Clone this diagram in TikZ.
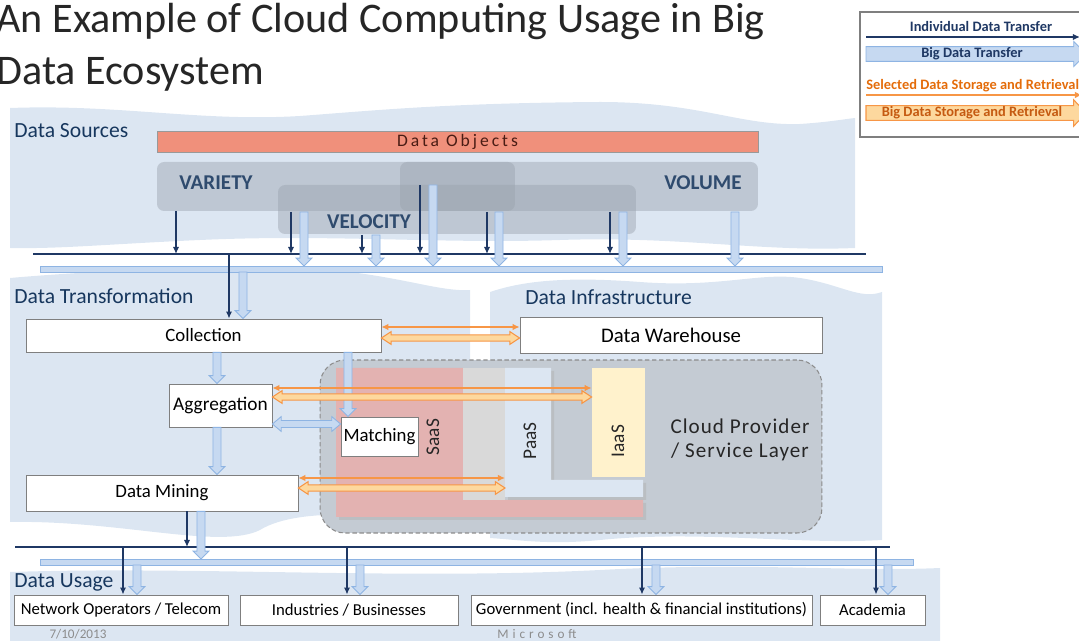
\documentclass[tikz,border=0pt]{standalone}
\usepackage{fontspec}
\setmainfont{Carlito}
\newfontfamily\spacedfont[LetterSpace=17]{Carlito}
\newfontfamily\widefont[LetterSpace=5]{Carlito}
\newfontfamily\msfont[LetterSpace=30]{Carlito}
\usetikzlibrary{arrows.meta, positioning, calc}

\definecolor{bandblue}{HTML}{DCE6F2}
\definecolor{navy}{HTML}{1F3864}
\definecolor{navytext}{HTML}{17375E}
\definecolor{vtextblue}{HTML}{2F4B6E}
\definecolor{lfill}{HTML}{C6D9F1}
\definecolor{lline}{HTML}{8EB4E3}
\definecolor{orline}{HTML}{F79646}
\definecolor{orfill}{HTML}{FDD89E}
\definecolor{ortext}{HTML}{E46C0A}
\definecolor{ortextb}{HTML}{C55A11}
\definecolor{objred}{HTML}{F0907B}
\definecolor{objtext}{HTML}{4A1C14}
\definecolor{vgray}{HTML}{9AA3AE}
\definecolor{cloudgray}{HTML}{C4CBD3}
\definecolor{dashgray}{HTML}{8C8C8C}
\definecolor{saaspink}{HTML}{E3B2B1}
\definecolor{stripgray}{HTML}{D9D9D9}
\definecolor{paasblue}{HTML}{DCE6F2}
\definecolor{iaasyel}{HTML}{FFF2CC}
\definecolor{boxgray}{HTML}{7F7F7F}

% block arrow: [style]{shaft half width}{head half width}{head length}{from}{to}
\newcommand\blockarrow[6][]{%
  \filldraw[#1] ($#5!#2!90:#6$) -- ($#6!#4!#5!#2!-90:#5$) -- ($#6!#4!#5!#3!-90:#5$) -- #6
    -- ($#6!#4!#5!#3!90:#5$) -- ($#6!#4!#5!#2!90:#5$) -- ($#5!#2!-90:#6$) -- cycle;}
% same, with a head at both ends
\newcommand\dblblockarrow[6][]{%
  \filldraw[#1] #5 -- ($#5!#4!#6!#3!90:#6$) -- ($#5!#4!#6!#2!90:#6$)
    -- ($#6!#4!#5!#2!-90:#5$) -- ($#6!#4!#5!#3!-90:#5$) -- #6
    -- ($#6!#4!#5!#3!90:#5$) -- ($#6!#4!#5!#2!90:#5$)
    -- ($#5!#4!#6!#2!-90:#6$) -- ($#5!#4!#6!#3!-90:#6$) -- cycle;}

\begin{document}
\begin{tikzpicture}[x=0.02cm, y=-0.02cm,
    lbl/.style={font=\fontsize{12.3}{14}\selectfont, text=navytext, inner sep=0pt, anchor=west},
    box/.style={draw=boxgray, line width=0.5pt, fill=white, inner sep=0pt, font=\fontsize{10.7}{12}\selectfont},
    usebox/.style={box, minimum height=0.6cm, font=\fontsize{9.5}{11}\selectfont},
    vbox/.style={fill=vgray, fill opacity=0.45, rounded corners=4pt, minimum width=7.16cm, minimum height=0.98cm, inner sep=0pt},
    vtext/.style={font=\bfseries\fontsize{12}{14}\selectfont, text=vtextblue},
    layertext/.style={rotate=90, font=\fontsize{11}{13}\selectfont, text=black!85},
    darr/.style={navy, line width=1.1pt, -{Latex[length=4pt,width=3.6pt]}},
    larr/.style={fill=lfill, draw=lline, line width=0.5pt},
    oarr/.style={orline, line width=1.1pt, {Latex[length=4pt,width=3.8pt]}-{Latex[length=4pt,width=3.8pt]}},
    ofat/.style={fill=orfill, draw=orline, line width=0.6pt},
    legtext/.style={font=\bfseries\fontsize{8.2}{9}\selectfont, inner sep=0pt}
]
\useasboundingbox (0,0) rectangle (1079,641);

% background bands
\fill[bandblue] (10,108) .. controls (120,104) and (200,122) .. (300,116) .. controls (380,110) and (450,103) .. (600,102)
  .. controls (700,102) and (740,126) .. (800,124) .. controls (830,122) and (845,119) .. (855,118) -- (855,248)
  .. controls (760,252) and (680,236) .. (560,240) .. controls (440,244) and (330,234) .. (200,240)
  .. controls (110,244) and (60,249) .. (10,248) -- cycle;
\fill[bandblue] (10,278) .. controls (100,270) and (250,264) .. (330,270) .. controls (400,276) and (440,292) .. (470,290)
  -- (470,528) .. controls (400,515) and (300,505) .. (260,530) .. controls (220,550) and (120,520) .. (10,522) -- cycle;
\fill[bandblue] (490,292) .. controls (520,282) and (560,276) .. (640,282) .. controls (720,288) and (760,272) .. (800,278)
  .. controls (840,284) and (860,300) .. (882,292) -- (882,540) .. controls (800,545) and (700,530) .. (600,540)
  .. controls (550,545) and (520,540) .. (490,538) -- cycle;
\fill[bandblue] (10,572) .. controls (200,566) and (400,580) .. (600,570) .. controls (750,562) and (850,572) .. (940,568)
  -- (940,641) -- (10,641) -- cycle;

% title
\node[anchor=base west, inner sep=0pt, text=black!85, font=\fontsize{24}{28}\selectfont] (title1) at (-4,33) {An Example of Cloud Computing Usage in Big};
\node[anchor=base west, inner sep=0pt, text=black!85, font=\fontsize{24}{28}\selectfont] (title2) at (-4,85) {Data Ecosystem};

% legend
\draw[boxgray, line width=0.6pt] (860,12) rectangle (1100,137);
\node[legtext, text=navy] (lgind) at (981,27) {Individual Data Transfer};
\coordinate (lgia) at (866,37); \coordinate (lgib) at (1080,37);
\draw[darr] (lgia) -- (lgib);
\coordinate (lgba) at (866,54); \coordinate (lgbb) at (1086,54);
\blockarrow[larr]{4.2pt}{7.2pt}{7pt}{(lgba)}{(lgbb)}
\node[legtext, text=navy] (lgbig) at (972,54) {Big Data Transfer};
\node[legtext, text=ortext, anchor=west] (lgsel) at (866,86) {Selected Data Storage and Retrieval};
\coordinate (lgsa) at (866,95); \coordinate (lgsb) at (1082,95);
\draw[orline, line width=1.1pt, -{Latex[length=4pt,width=3.8pt]}] (lgsa) -- (lgsb);
\coordinate (lgoa) at (866,113); \coordinate (lgob) at (1086,113);
\blockarrow[ofat]{4.2pt}{7.5pt}{7pt}{(lgoa)}{(lgob)}
\node[legtext, text=ortextb] (lgstore) at (972,113) {Big Data Storage and Retrieval};

% section labels
\node[lbl] (srclbl) at (14,131) {Data Sources};
\node[lbl] (trlbl) at (14,296) {Data Transformation};
\node[lbl] (inflbl) at (525,297) {Data Infrastructure};
\node[lbl] (uselbl) at (14,582) {Data Usage};

% data sources
\node[fill=objred, draw=black!40, line width=0.4pt, minimum width=12.02cm, minimum height=0.42cm, inner sep=0pt,
  font=\fontsize{10}{12}\selectfont, text=objtext] (objects) at (457.5,141.5) {\spacedfont Data Objects};
\node[vbox] (variety) at (336,186.5) {};
\node[vbox] (volume) at (579,186.5) {};
\node[vbox] (velocity) at (457,209.5) {};
\node[vtext] (varietylbl) at (216,183) {VARIETY};
\node[vtext] (volumelbl) at (703,183) {VOLUME};
\node[vtext] (velocitylbl) at (369,222) {VELOCITY};

% upper buses
\coordinate (busA) at (0,254);
\coordinate (lbarA) at (0,266);
\coordinate (lbarB) at (0,272);
\draw[navy, line width=1.6pt] (33,254) -- (866,254);
\filldraw[larr] (40,266) rectangle (882,272);
\foreach \x/\y in {176/211, 291/212, 362/235, 420/185, 487/212, 610/212}
  \draw[darr] (\x,\y) -- (\x,0 |- busA);
\foreach \x/\y in {304/212, 376/235, 433/185, 499/212, 623/212, 735/212} {
  \coordinate (s) at (\x,\y);
  \coordinate (e) at (\x,0 |- lbarA);
  \blockarrow[larr]{2.3pt}{4.5pt}{4.5pt}{(s)}{(e)}
}

% cloud provider / service layer
\node[fill=cloudgray, draw=dashgray, line width=0.6pt, dash pattern=on 2.5pt off 1.5pt, rounded corners=0.5cm,
  minimum width=10.04cm, minimum height=3.46cm, inner sep=0pt] (cloud) at (571,446.5) {};
\fill[black!30, opacity=0.5] (339,371) -- (466,371) -- (466,503) -- (646,503) -- (646,520) -- (339,520) -- cycle;
\fill[saaspink] (336,368) -- (463,368) -- (463,500) -- (643,500) -- (643,517) -- (336,517) -- cycle;
\fill[stripgray] (463,368) rectangle (505,500);
\fill[black!30, opacity=0.5] (508,371) -- (554,371) -- (554,483) -- (646,483) -- (646,500) -- (508,500) -- cycle;
\fill[paasblue] (505,368) -- (551,368) -- (551,480) -- (643,480) -- (643,497) -- (505,497) -- cycle;
\coordinate (paas) at (505,488);
\node[fill=iaasyel, minimum width=1.06cm, minimum height=2.18cm, inner sep=0pt] (iaas) at (618.5,422.5) {};
\node[layertext] (saaslbl) at (433,437) {SaaS};
\node[layertext] (paaslbl) at (530,441) {PaaS};
\node[layertext] (iaaslbl) at (618,441) {IaaS};
\node[align=center, font=\widefont\fontsize{12}{14}\selectfont, text=black!85] (cloudlbl) at (740,440) {Cloud Provider\\/ Service Layer};

% transformation boxes
\node[box, minimum width=7.1cm, minimum height=0.66cm] (coll) at (203.5,335.5) {Collection};
\node[box, minimum width=6.04cm, minimum height=0.72cm, font=\fontsize{11.8}{13}\selectfont] (dwh) at (671,335) {Data Warehouse};
\node[box, minimum width=2.06cm, minimum height=0.86cm, font=\fontsize{11}{13}\selectfont] (aggr) at (220.5,405.5) {Aggregation};
\node[box, minimum width=1.54cm, minimum height=0.78cm] (match) at (379.5,436.5) {Matching};
\node[box, minimum width=5.44cm, minimum height=0.72cm] (mine) at (162,493) {Data Mining};

% into collection
\draw[darr] (229,0 |- busA) -- (229,0 |- coll.north);
\coordinate (cis) at (243,0 |- lbarB);
\coordinate (cie) at (243,0 |- coll.north);
\blockarrow[larr]{2.3pt}{4.5pt}{4.5pt}{(cis)}{(cie)}

% inside transformation
\coordinate (cas) at (217,0 |- coll.south);
\coordinate (cae) at (217,0 |- aggr.north);
\blockarrow[larr]{2.3pt}{4.5pt}{4.5pt}{(cas)}{(cae)}
\coordinate (cms) at (348,0 |- coll.south);
\coordinate (cme) at (348,0 |- match.north);
\blockarrow[larr]{2.3pt}{4.5pt}{4.5pt}{(cms)}{(cme)}
\coordinate (ams) at (217,0 |- aggr.south);
\coordinate (ame) at (217,0 |- mine.north);
\blockarrow[larr]{2.3pt}{4.5pt}{4.5pt}{(ams)}{(ame)}
\coordinate (aga) at (aggr.east |- 0,424);
\coordinate (agb) at (match.west |- 0,424);
\dblblockarrow[larr]{2pt}{4.2pt}{5pt}{(aga)}{(agb)}

% storage and retrieval
\draw[oarr] (coll.east |- 0,327) -- (dwh.west |- 0,327);
\coordinate (cwa) at (coll.east |- 0,338);
\coordinate (cwb) at (dwh.west |- 0,338);
\dblblockarrow[ofat]{1.8pt}{3.6pt}{5.5pt}{(cwa)}{(cwb)}
\draw[oarr] (aggr.east |- 0,388) -- (iaas.west |- 0,388);
\coordinate (aia) at (aggr.east |- 0,397);
\coordinate (aib) at (iaas.west |- 0,397);
\dblblockarrow[ofat]{1.8pt}{3.6pt}{5.5pt}{(aia)}{(aib)}
\draw[oarr] (mine.east |- 0,478) -- (paas |- 0,478);
\coordinate (mpa) at (mine.east |- 0,488);
\coordinate (mpb) at (paas |- 0,488);
\dblblockarrow[ofat]{1.8pt}{3.6pt}{5.5pt}{(mpa)}{(mpb)}

% lower buses
\coordinate (busC) at (0,547);
\coordinate (lbarC) at (0,559);
\coordinate (lbarD) at (0,565);
\draw[navy, line width=1.6pt] (15,547) -- (890,547);
\filldraw[larr] (40,559) rectangle (913,565);
\draw[darr] (187,0 |- mine.south) -- (187,0 |- busC);
\coordinate (mbs) at (201,0 |- mine.south);
\coordinate (mbe) at (201,0 |- lbarC);
\blockarrow[larr]{2.3pt}{4.5pt}{4.5pt}{(mbs)}{(mbe)}

% data usage
\node[usebox, minimum width=4.28cm] (net) at (121,610) {Network Operators / Telecom};
\node[usebox, minimum width=4.36cm] (ind) at (349,610) {Industries / Businesses};
\node[usebox, minimum width=6.82cm] (gov) at (641.5,610) {Government (incl. health \& financial institutions)};
\node[usebox, minimum width=2.1cm] (acad) at (872.5,610) {Academia};
\foreach \x/\n in {123/net, 347/ind, 642/gov, 876/acad}
  \draw[darr] (\x,0 |- busC) -- (\x,0 |- \n.north);
\foreach \x/\n in {137/net, 360/ind, 656/gov, 888/acad} {
  \coordinate (s) at (\x,0 |- lbarD);
  \coordinate (e) at (\x,0 |- \n.north);
  \blockarrow[larr]{2.3pt}{4.5pt}{4.5pt}{(s)}{(e)}
}

% footer
\node[font=\fontsize{7.5}{9}\selectfont, text=black!45] (date) at (78,634) {7/10/2013};
\node[font=\msfont\fontsize{7.5}{9}\selectfont, text=black!45] (ms) at (537,634) {Microsoft};
\end{tikzpicture}
\end{document}
